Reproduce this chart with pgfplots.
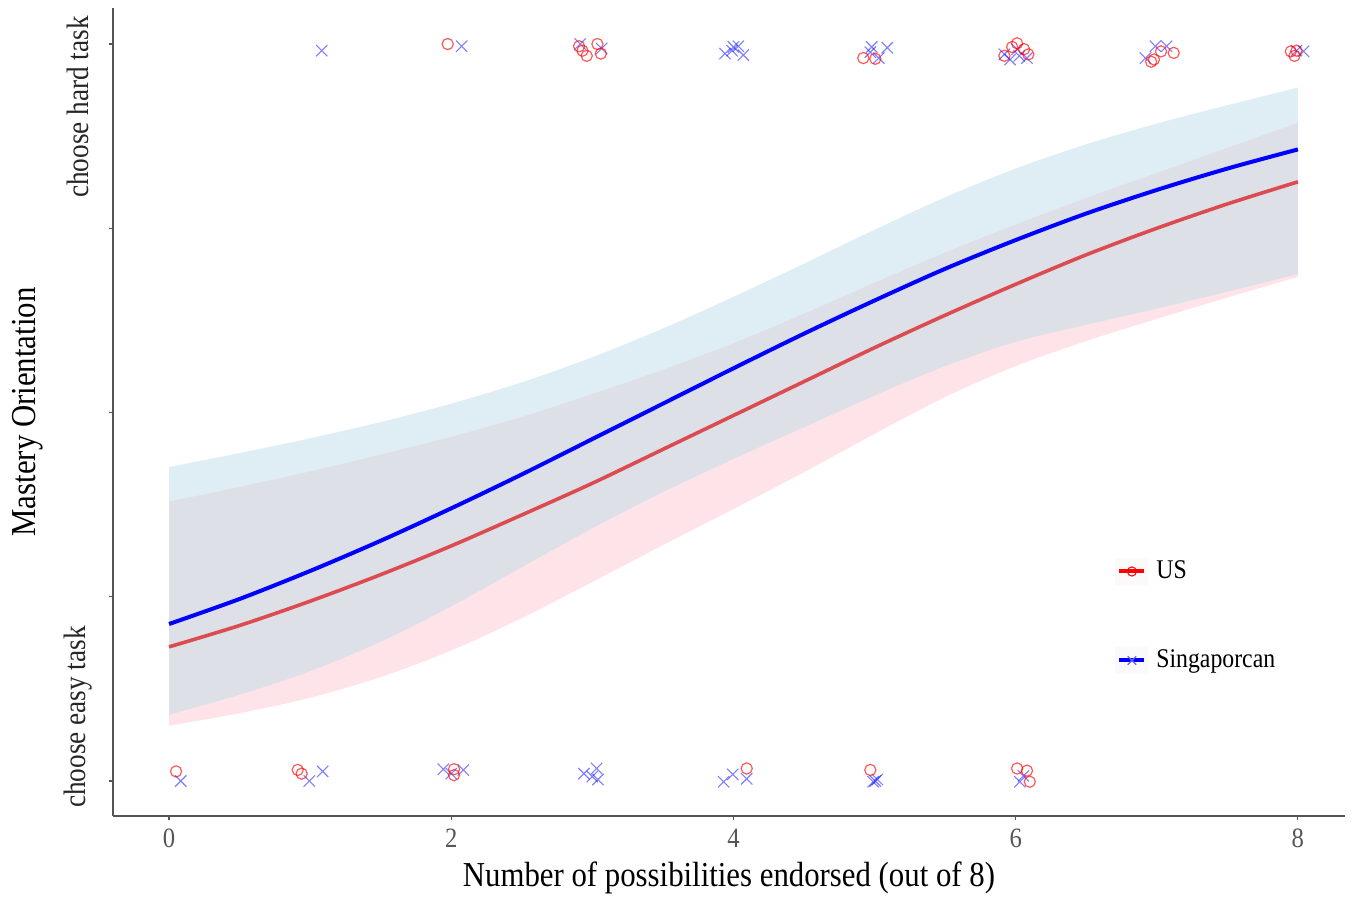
\documentclass[border=0pt]{standalone}
\usepackage{fontspec}
\setmainfont{Liberation Serif}[FakeStretch=0.88]
\usepackage{pgfplots}
\pgfplotsset{compat=1.18}
\usepackage{pgfplotstable}
\usepgfplotslibrary{fillbetween}
\definecolor{ribblue}{RGB}{222,238,244}
\definecolor{ribpink}{RGB}{254,228,233}
\definecolor{ribgray}{RGB}{221,224,231}
\definecolor{usred}{RGB}{220,75,80}
\definecolor{axgray}{RGB}{85,85,85}

\pgfplotstableread{
x   bu    pu    bl    pl    bline rline
0   0.426 0.379 0.090 0.075 0.213 0.182
0.5 0.445 0.399 0.117 0.092 0.247 0.211
1   0.465 0.420 0.149 0.113 0.285 0.244
1.5 0.487 0.443 0.189 0.141 0.326 0.280
2   0.512 0.467 0.237 0.177 0.370 0.319
2.5 0.541 0.494 0.290 0.221 0.416 0.361
3   0.575 0.525 0.343 0.270 0.464 0.404
3.5 0.614 0.558 0.392 0.320 0.512 0.450
4   0.657 0.594 0.437 0.369 0.560 0.496
4.5 0.702 0.634 0.480 0.419 0.607 0.542
5   0.748 0.676 0.523 0.471 0.652 0.588
5.5 0.792 0.717 0.563 0.521 0.695 0.632
6   0.831 0.755 0.596 0.563 0.734 0.674
6.5 0.864 0.791 0.619 0.597 0.770 0.714
7   0.892 0.825 0.641 0.627 0.802 0.750
7.5 0.917 0.859 0.664 0.656 0.831 0.783
8   0.941 0.893 0.688 0.684 0.857 0.813
}\curves

\begin{document}
\begin{tikzpicture}
\begin{axis}[
  at={(56.5pt,40pt)}, anchor=south west,
  scale only axis, width=616pt, height=404pt,
  xmin=-0.397, xmax=8.334, ymin=-0.0475, ymax=1.0489,
  axis x line*=bottom, axis y line*=left,
  axis line style={axgray, line width=0.75pt},
  xtick={0,2,4,6,8}, ytick={0,0.25,0.5,0.75,1}, yticklabels={},
  tick style={axgray, line width=0.6pt}, tick align=outside, major tick length=2.2pt,
  ticklabel style={font=\fontsize{14}{14}\selectfont, text=axgray},
  xticklabel style={yshift=-0.6pt},
  /pgf/number format/assume math mode=true,
  xlabel={Number of possibilities endorsed (out of 8)},
  ylabel={Mastery Orientation},
  label style={font=\fontsize{17.5}{17.5}\selectfont},
  xlabel style={at={(axis description cs:0.5,-0.0767)}, anchor=center},
  ylabel style={at={(axis description cs:-0.0695,0.5)}, anchor=center},
  clip=false,
  legend style={draw=none, fill=none, at={(axis cs:6.704,0.2239)}, anchor=west,
    inner sep=0pt, row sep=31pt, font=\fontsize{13.5}{13.5}\selectfont,
    nodes={inner sep=0pt, text height=9.5pt, text depth=2.8pt, anchor=west}},
  legend image code/.code={\fill[black!2] (-1pt,-5.75pt) rectangle (13.5pt,5.75pt); \draw[mark repeat=2,mark phase=2,#1] plot coordinates {(0pt,0pt) (6.25pt,0pt) (12.5pt,0pt)}; \path (17.5pt,0pt);},
]
% ribbons
\addplot[name path=bu, draw=none, forget plot, smooth] table[x=x,y=bu]{\curves};
\addplot[name path=bl, draw=none, forget plot, smooth] table[x=x,y=bl]{\curves};
\addplot[name path=pu, draw=none, forget plot, smooth] table[x=x,y=pu]{\curves};
\addplot[name path=pl, draw=none, forget plot, smooth] table[x=x,y=pl]{\curves};
\addplot[fill=ribblue, draw=none, forget plot] fill between[of=bu and bl];
\addplot[fill=ribpink, draw=none, forget plot] fill between[of=pu and pl];
\addplot[fill=ribgray, draw=none, forget plot] fill between[of=pu and bl];

% Singaporean points
\addplot[only marks, mark=x, mark size=4pt, blue, opacity=0.5, mark options={line width=0.55pt}, forget plot] coordinates {
(1.082,0.991) (2.074,0.997) (2.913,1.000) (3.066,0.994) (3.940,0.987) (4.000,0.996)
(4.035,0.997) (4.070,0.985) (3.990,0.991) (4.980,0.996) (5.090,0.995) (5.030,0.981)
(4.970,0.989) (5.920,0.986) (6.010,0.993) (6.025,0.984) (5.960,0.979) (6.080,0.981)
(6.920,0.981) (6.990,0.997) (7.070,0.997) (7.990,0.991) (8.040,0.990)
(0.083,0.000) (0.994,0.000) (1.089,0.013) (1.944,0.016) (2.000,0.010) (2.086,0.015)
(2.940,0.010) (3.030,0.017) (3.000,0.006) (3.040,0.002) (3.930,-0.001) (3.995,0.009)
(4.094,0.003) (4.990,-0.001) (5.020,0.002) (5.005,0.000) (6.030,-0.001) (6.055,0.007)
};
% US points
\addplot[only marks, mark=o, mark size=2.8pt, red, opacity=0.65, mark options={line width=0.6pt}, forget plot] coordinates {
(1.975,1.000) (2.906,0.997) (2.930,0.991) (2.960,0.984) (3.036,1.000) (3.060,0.987)
(4.920,0.981) (5.005,0.980) (5.975,0.996) (6.060,0.993) (6.090,0.986) (5.920,0.984)
(6.010,1.001) (6.980,0.979) (7.030,0.990) (7.120,0.988) (6.960,0.976) (7.950,0.990)
(7.990,0.991) (7.976,0.984)
(0.050,0.013) (0.912,0.015) (0.940,0.010) (2.020,0.016) (2.020,0.008) (4.094,0.017)
(4.970,0.015) (6.010,0.017) (6.080,0.014) (6.100,-0.001)
};

% fitted lines
\addplot[usred, line width=1.8pt, smooth, forget plot] table[x=x,y=rline]{\curves};
\addplot[blue, line width=2pt, smooth, forget plot] table[x=x,y=bline]{\curves};

% y tick labels
\node[rotate=90, anchor=center, font=\fontsize{15.5}{15.5}\selectfont, text=black!85] at (axis cs:-0.645,0.9145) {choose hard task};
\node[rotate=90, anchor=center, font=\fontsize{15.5}{15.5}\selectfont, text=black!85] at (axis cs:-0.645,0.0868) {choose easy task};

% legend
\addlegendimage{red, line width=2pt, mark=o, mark size=2.3pt, mark options={line width=0.5pt, solid, fill=white}}
\addlegendentry{US}
\addlegendimage{blue, line width=2pt, mark=x, mark size=3pt, mark options={line width=0.6pt, blue!60}}
\addlegendentry{Singaporcan}
\end{axis}
\pgfresetboundingbox
\useasboundingbox (0,0) rectangle (679.5pt,448pt);
\end{tikzpicture}
\end{document}
